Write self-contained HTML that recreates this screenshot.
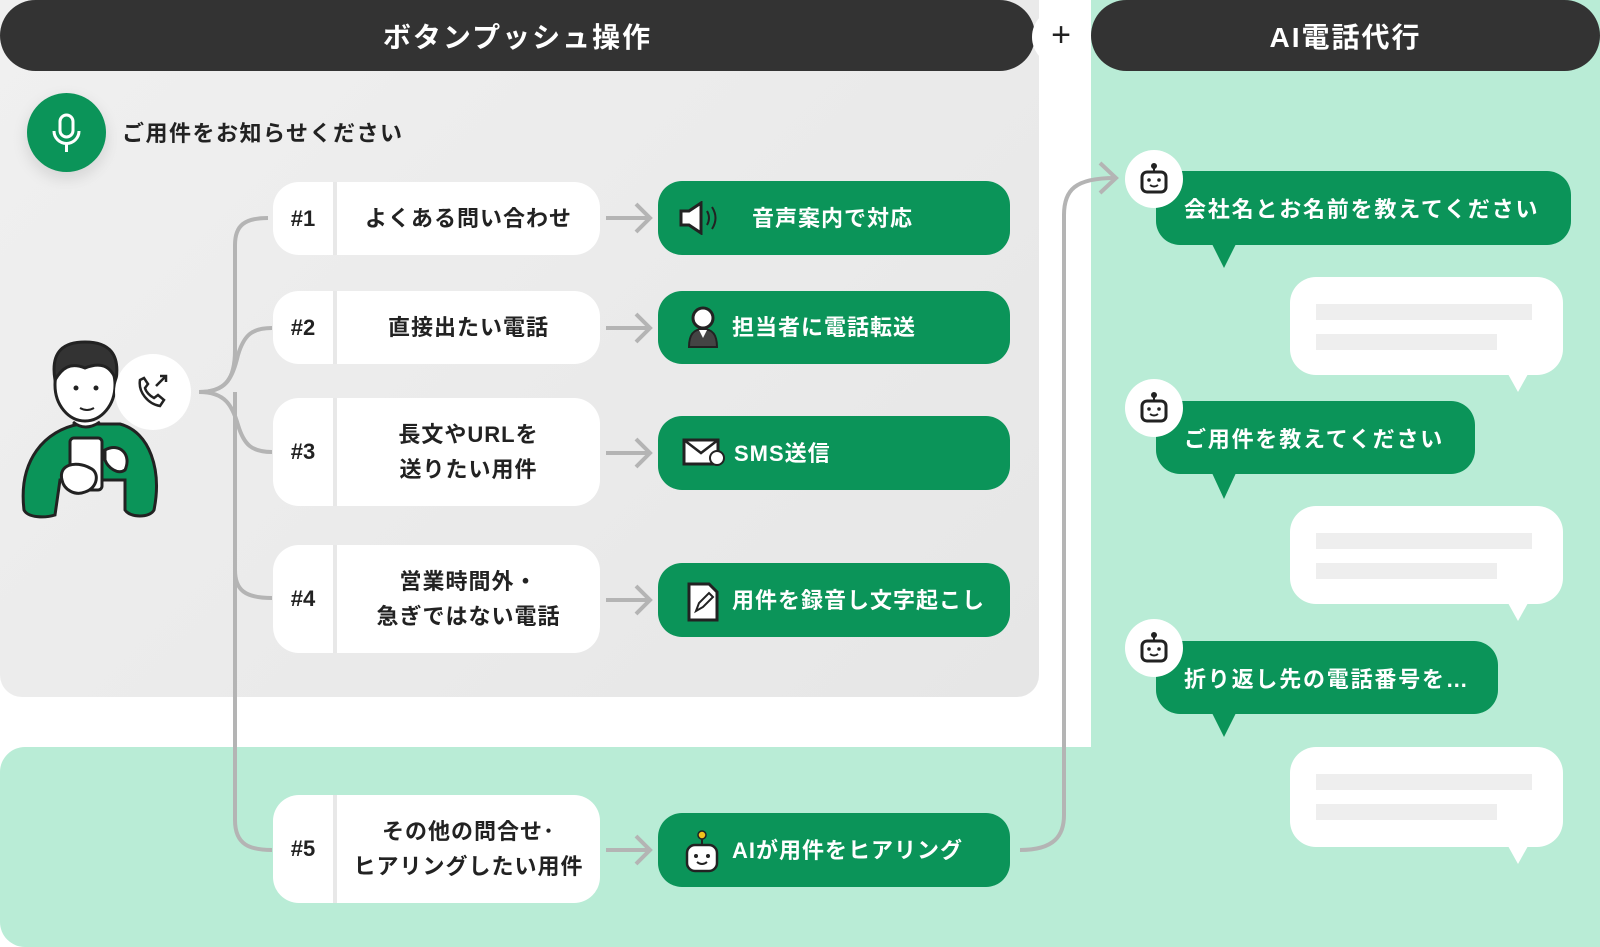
<!DOCTYPE html>
<html><head><meta charset="utf-8"><style>
*{margin:0;padding:0;box-sizing:border-box}
body{width:1600px;height:947px;position:relative;background:#fff;overflow:hidden;font-family:"Liberation Sans","Noto Sans CJK JP",sans-serif;font-weight:700;color:#222}
.a{position:absolute}
.hdr{background:#333;color:#fff;font-size:28px;display:flex;align-items:center;justify-content:center;letter-spacing:2px}
.opt{background:#fff;border-radius:26px;display:flex;align-items:center}
.opt .n{width:64px;text-align:center;font-size:22px;border-right:4px solid #e8e8e8;height:100%;display:flex;align-items:center;justify-content:center}
.opt .t{flex:1;text-align:center;font-size:22px;line-height:35px;letter-spacing:1px}
.btn{background:#0b9459;border-radius:24px;color:#fff;font-size:22px;display:flex;align-items:center;letter-spacing:1px}
.gb{background:#0b9459;border-radius:24px;color:#fff;font-size:22px;display:flex;align-items:center;padding-left:28px;letter-spacing:1.8px}
.wb{background:#fff;border-radius:26px}
.bar{position:absolute;background:#eee;height:16px;left:26px}
.rc{background:#fff;border-radius:50%;width:58px;height:58px}
</style></head><body>
<div class="a" style="left:0;top:747px;width:1600px;height:200px;background:#b9ecd6;border-radius:25px 0 0 25px"></div>
<div class="a" style="left:1091px;top:0;width:509px;height:947px;background:#b9ecd6;border-radius:0 0 25px 0"></div>
<div class="a" style="left:0;top:0;width:1091px;height:747px;background:#fff;border-bottom-right-radius:25px"></div>
<div class="a" style="left:0;top:0;width:1039px;height:697px;background:linear-gradient(135deg,#f0f0f0,#e6e6e6);border-radius:0 0 22px 22px"></div>
<div class="a hdr" style="left:0;top:0;width:1035px;height:71px;border-radius:36px">ボタンプッシュ操作</div>
<div class="a hdr" style="left:1091px;top:0;width:509px;height:71px;border-radius:36px">AI電話代行</div>
<div class="a" style="left:1032px;top:8px;width:58px;height:58px;border-radius:50%;background:#fff;font-size:34px;font-weight:400;text-align:center;line-height:54px;color:#222">+</div>
<div class="a" style="left:27px;top:93px;width:79px;height:79px;border-radius:50%;background:#0b9459;box-shadow:0 6px 16px rgba(0,0,0,.12)">
<svg width="79" height="79"><rect x="33" y="22" width="13" height="22" rx="6.5" fill="none" stroke="#fff" stroke-width="3"/><path d="M27 38a12.5 12.5 0 0 0 25 0M39.5 51v8" fill="none" stroke="#fff" stroke-width="3"/></svg></div>
<div class="a" style="left:122px;top:116px;font-size:22px;letter-spacing:1.5px">ご用件をお知らせください</div>
<svg class="a" style="left:0;top:0" width="1600" height="947">
<g fill="none" stroke="#b4b4b4" stroke-width="4">
<path d="M199 392 C225 392 235 380 235 350 L235 245 C235 225 245 218 268 218"/>
<path d="M199 392 C225 392 232 380 238 355 C244 335 252 328 272 328"/>
<path d="M199 392 C225 392 232 405 238 425 C244 445 252 452 272 452"/>
<path d="M235 392 L235 570 C235 590 245 598 272 598"/>
<path d="M235 560 L235 820 C235 845 250 850 272 850"/>
<path d="M1020 850 C1055 850 1064 835 1064 815 L1064 215 C1064 190 1075 178 1115 178"/>
<path d="M1100 163 L1116 178 L1100 193"/>
</g>
<g fill="none" stroke="#b4b4b4" stroke-width="4">
<path d="M606 218H650M636 204L650 218L636 232"/>
<path d="M606 328H650M636 314L650 328L636 342"/>
<path d="M606 453H650M636 439L650 453L636 467"/>
<path d="M606 600H650M636 586L650 600L636 614"/>
<path d="M606 850H650M636 836L650 850L636 864"/>
</g>
</svg>
<svg class="a" style="left:0;top:320px" width="250" height="210">
<path d="M24 190 C18 140 45 110 80 104 L120 104 C150 112 162 150 154 190 C150 198 130 198 125 190 L125 160 L60 160 L55 195 C45 198 28 198 24 190 Z" fill="#0b9459" stroke="#222" stroke-width="3"/>
<path d="M73 102 Q85 112 100 102" fill="#fff" stroke="#222" stroke-width="3"/>
<ellipse cx="85" cy="65" rx="30" ry="36" fill="#fff" stroke="#222" stroke-width="3"/>
<path d="M55 60 C50 30 65 22 85 22 C110 22 120 35 116 60 C110 45 100 42 85 48 C70 42 62 48 55 60Z" fill="#333" stroke="#222" stroke-width="3"/>
<circle cx="76" cy="68" r="2.5" fill="#222"/><circle cx="96" cy="68" r="2.5" fill="#222"/>
<path d="M80 88 Q87 92 94 88" fill="none" stroke="#222" stroke-width="2"/>
<rect x="70" y="118" width="32" height="52" rx="4" fill="#fff" stroke="#222" stroke-width="3"/>
<path d="M105 130 C120 122 132 135 125 150 C118 155 108 148 105 140Z" fill="#fff" stroke="#222" stroke-width="3"/>
<path d="M62 160 C58 145 75 140 90 148 C100 152 98 168 85 172 C75 176 64 170 62 160Z" fill="#fff" stroke="#222" stroke-width="3"/>
<circle cx="153" cy="72" r="38" fill="#fff"/>
<path d="M140 60 C138 72 148 84 160 86 L164 80 L158 75 L154 78 C150 76 146 72 145 68 L148 64 L144 58 Z" fill="none" stroke="#222" stroke-width="2.5"/>
<path d="M156 66 L166 56 M160 56 H166 V62" fill="none" stroke="#222" stroke-width="2.5"/>
</svg>
<div class="a opt" style="left:273px;top:182px;width:327px;height:73px"><div class="n">#1</div><div class="t">よくある問い合わせ</div></div>
<div class="a opt" style="left:273px;top:291px;width:327px;height:73px"><div class="n">#2</div><div class="t">直接出たい電話</div></div>
<div class="a opt" style="left:273px;top:398px;width:327px;height:108px"><div class="n">#3</div><div class="t">長文やURLを<br>送りたい用件</div></div>
<div class="a opt" style="left:273px;top:545px;width:327px;height:108px"><div class="n">#4</div><div class="t">営業時間外・<br>急ぎではない電話</div></div>
<div class="a opt" style="left:273px;top:795px;width:327px;height:108px"><div class="n">#5</div><div class="t">その他の問合せ･<br>ヒアリングしたい用件</div></div>
<div class="a btn" style="left:658px;top:181px;width:352px;height:74px">
<svg class="a" style="left:20px;top:20px" width="52" height="34"><path d="M3 10h8l12-8v30l-12-8H3z" fill="#fff" stroke="#222" stroke-width="3"/><path d="M29 10q4 7 0 14M34 6q7 11 0 22" fill="none" stroke="#222" stroke-width="2"/></svg>
<span class="a" style="left:94px;top:20px">音声案内で対応</span></div>
<div class="a btn" style="left:658px;top:291px;width:352px;height:73px">
<svg class="a" style="left:28px;top:14px" width="36" height="44"><circle cx="17" cy="13" r="10" fill="#fff" stroke="#222" stroke-width="3"/><path d="M3 42c0-14 6-18 14-18s14 4 14 18z" fill="#444" stroke="#222" stroke-width="2"/><path d="M13 25l4 8 4-8" fill="#fff"/></svg>
<span class="a" style="left:74px;top:19px">担当者に電話転送</span></div>
<div class="a btn" style="left:658px;top:416px;width:352px;height:74px">
<svg class="a" style="left:24px;top:22px" width="44" height="30"><rect x="2" y="2" width="34" height="24" fill="#fff" stroke="#222" stroke-width="3"/><path d="M2 2l17 13 17-13" fill="none" stroke="#222" stroke-width="2.5"/><circle cx="35" cy="20" r="7" fill="#fff" stroke="#222" stroke-width="2"/></svg>
<span class="a" style="left:76px;top:20px">SMS送信</span></div>
<div class="a btn" style="left:658px;top:563px;width:352px;height:74px">
<svg class="a" style="left:28px;top:18px" width="34" height="42"><path d="M3 3h20l8 8v28H3z" fill="#fff" stroke="#222" stroke-width="3"/><path d="M10 30l3-8 10-10 4 4-10 10z" fill="none" stroke="#222" stroke-width="2"/></svg>
<span class="a" style="left:74px;top:20px">用件を録音し文字起こし</span></div>
<div class="a btn" style="left:658px;top:813px;width:352px;height:74px">
<svg class="a" style="left:24px;top:14px" width="40" height="46"><circle cx="20" cy="8" r="4" fill="#f4c21b" stroke="#222" stroke-width="1.5"/><path d="M20 12v6" stroke="#222" stroke-width="2"/><rect x="5" y="18" width="30" height="26" rx="8" fill="#fff" stroke="#222" stroke-width="2.5"/><circle cx="14" cy="29" r="2" fill="#222"/><circle cx="26" cy="29" r="2" fill="#222"/><path d="M15 35q5 4 10 0" fill="none" stroke="#222" stroke-width="2"/></svg>
<span class="a" style="left:74px;top:20px">AIが用件をヒアリング</span></div>
<div class="a gb" style="left:1156px;top:171px;width:415px;height:74px">会社名とお名前を教えてください</div>
<div class="a" style="left:1212px;top:244px;border-left:12px solid transparent;border-right:12px solid transparent;border-top:24px solid #0b9459"></div>
<div class="a wb" style="left:1290px;top:277px;width:273px;height:98px"><div class="bar" style="top:27px;width:216px"></div><div class="bar" style="top:57px;width:181px"></div></div>
<div class="a" style="left:1508px;top:374px;border-left:10px solid transparent;border-right:10px solid transparent;border-top:18px solid #fff"></div>
<div class="a gb" style="left:1156px;top:401px;width:319px;height:73px">ご用件を教えてください</div>
<div class="a" style="left:1212px;top:473px;border-left:12px solid transparent;border-right:12px solid transparent;border-top:26px solid #0b9459"></div>
<div class="a wb" style="left:1290px;top:506px;width:273px;height:98px"><div class="bar" style="top:27px;width:216px"></div><div class="bar" style="top:57px;width:181px"></div></div>
<div class="a" style="left:1508px;top:603px;border-left:10px solid transparent;border-right:10px solid transparent;border-top:18px solid #fff"></div>
<div class="a gb" style="left:1156px;top:641px;width:342px;height:73px">折り返し先の電話番号を…</div>
<div class="a" style="left:1212px;top:713px;border-left:12px solid transparent;border-right:12px solid transparent;border-top:24px solid #0b9459"></div>
<div class="a wb" style="left:1290px;top:747px;width:273px;height:100px"><div class="bar" style="top:27px;width:216px"></div><div class="bar" style="top:57px;width:181px"></div></div>
<div class="a" style="left:1508px;top:846px;border-left:10px solid transparent;border-right:10px solid transparent;border-top:18px solid #fff"></div>
<div class="a rc" style="left:1125px;top:150px"><svg width="58" height="58"><circle cx="29" cy="16" r="3" fill="#222"/><path d="M29 18v4" stroke="#222" stroke-width="2"/><rect x="17" y="22" width="24" height="20" rx="5" fill="none" stroke="#222" stroke-width="3"/><circle cx="24" cy="30" r="1.8" fill="#222"/><circle cx="34" cy="30" r="1.8" fill="#222"/><path d="M25 35q4 3 8 0" fill="none" stroke="#222" stroke-width="2"/></svg></div>
<div class="a rc" style="left:1125px;top:379px"><svg width="58" height="58"><circle cx="29" cy="16" r="3" fill="#222"/><path d="M29 18v4" stroke="#222" stroke-width="2"/><rect x="17" y="22" width="24" height="20" rx="5" fill="none" stroke="#222" stroke-width="3"/><circle cx="24" cy="30" r="1.8" fill="#222"/><circle cx="34" cy="30" r="1.8" fill="#222"/><path d="M25 35q4 3 8 0" fill="none" stroke="#222" stroke-width="2"/></svg></div>
<div class="a rc" style="left:1125px;top:619px"><svg width="58" height="58"><circle cx="29" cy="16" r="3" fill="#222"/><path d="M29 18v4" stroke="#222" stroke-width="2"/><rect x="17" y="22" width="24" height="20" rx="5" fill="none" stroke="#222" stroke-width="3"/><circle cx="24" cy="30" r="1.8" fill="#222"/><circle cx="34" cy="30" r="1.8" fill="#222"/><path d="M25 35q4 3 8 0" fill="none" stroke="#222" stroke-width="2"/></svg></div>
</body></html>
